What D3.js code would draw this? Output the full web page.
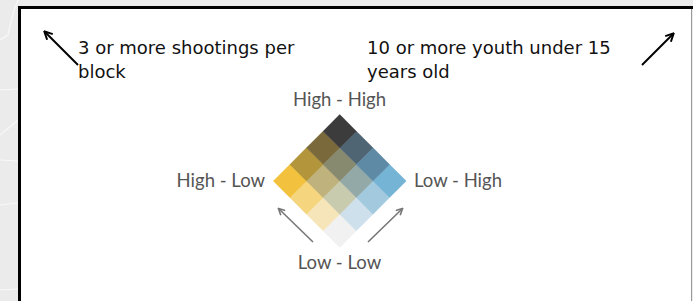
<!DOCTYPE html>
<html><head><meta charset="utf-8">
<script src="https://cdn.jsdelivr.net/npm/d3@7"></script>
<style>html,body{margin:0;padding:0;background:#fff;overflow:hidden}</style>
</head><body>
<svg id="c" width="693" height="301"></svg>
<script>
// Data
const shootingLevels = [0, 1, 2, 3];   // low -> high (3 or more shootings per block)
const youthLevels = [0, 1, 2, 3];      // low -> high (10 or more youth under 15)
// colors[shooting][youth]
const colors = [
  ["#f1f1f1", "#cde0ec", "#a3c9df", "#75b4d5"],
  ["#f6e5b8", "#c8cbae", "#93a9a7", "#5e8aa6"],
  ["#f5d57e", "#c0b27c", "#888a70", "#506573"],
  ["#f2c23e", "#b3963b", "#7a6a3b", "#3c3c3c"]
];
const cornerLabels = ["High - High", "High - Low", "Low - High", "Low - Low"];
const noteLeft = ["3 or more shootings per", "block"];
const noteRight = ["10 or more youth under 15", "years old"];

const svg = d3.select("#c");
// background map strip + panel
svg.append("rect").attr("x",0).attr("y",0).attr("width",693).attr("height",301).attr("fill","#ebebeb");
svg.append("path").attr("d","M0,40 L8,35 L14,10 L18,0").attr("stroke","#f6f6f6").attr("fill","none").attr("stroke-width",1.5);
svg.append("path").attr("d","M0,135 L18,120").attr("stroke","#f6f6f6").attr("fill","none").attr("stroke-width",1.5);
svg.append("path").attr("d","M0,90 L18,89 M0,160 L18,161 M0,205 L18,203 M0,290 L18,289").attr("stroke","#f8f8f8").attr("fill","none").attr("stroke-width",1);
svg.append("rect").attr("x",19).attr("y",7).attr("width",673).attr("height",300).attr("fill","#fff");
svg.append("line").attr("x1",19.5).attr("x2",19.5).attr("y1",6).attr("y2",301).attr("stroke","#000").attr("stroke-width",3);
svg.append("line").attr("x1",18).attr("x2",693).attr("y1",7.5).attr("y2",7.5).attr("stroke","#000").attr("stroke-width",3);
svg.append("line").attr("x1",691.5).attr("x2",691.5).attr("y1",9).attr("y2",301).attr("stroke","#999").attr("stroke-width",1);

// defs arrow markers
const defs = svg.append("defs");
function marker(id, color){
  defs.append("marker").attr("id",id).attr("viewBox","0 0 10 10").attr("refX",8).attr("refY",5)
    .attr("markerWidth",5).attr("markerHeight",5).attr("orient","auto-start-reverse")
    .append("path").attr("d","M1,1 L9,5 L1,9").attr("fill","none").attr("stroke",color).attr("stroke-width",2);
}
marker("ab","#000"); marker("ag","#777");

// Notes
const noteFont = "'DejaVu Sans', sans-serif";
const nl = svg.append("text").attr("font-family",noteFont).attr("font-size",18).attr("fill","#111");
noteLeft.forEach((t,i)=> nl.append("tspan").attr("x",78).attr("y",54+i*24).text(t));
const nr = svg.append("text").attr("font-family",noteFont).attr("font-size",18).attr("fill","#111");
noteRight.forEach((t,i)=> nr.append("tspan").attr("x",367).attr("y",54+i*24).text(t));

svg.append("line").attr("x1",78).attr("y1",65).attr("x2",45).attr("y2",32)
  .attr("stroke","#000").attr("stroke-width",2).attr("marker-end","url(#ab)");
svg.append("line").attr("x1",642).attr("y1",65).attr("x2",673).attr("y2",34)
  .attr("stroke","#000").attr("stroke-width",2).attr("marker-end","url(#ab)");

// Diamond
const cx = 339.5, cy = 181, side = 94;
const x = d3.scaleBand().domain(youthLevels).range([-side/2, side/2]);
const y = d3.scaleBand().domain(shootingLevels).range([side/2, -side/2]);
const g = svg.append("g").attr("transform",`translate(${cx},${cy}) rotate(-45)`);
const cells = [];
shootingLevels.forEach(a => youthLevels.forEach(b => cells.push({a, b, c: colors[a][b]})));
g.selectAll("rect").data(cells).join("rect")
  .attr("x", d => x(d.b)).attr("y", d => y(d.a))
  .attr("width", x.bandwidth()+0.3).attr("height", y.bandwidth()+0.3)
  .attr("fill", d => d.c);

const half = side/Math.SQRT2;
const lblFont = "Lato, sans-serif";
const lab = (t, px, py, anchor) => svg.append("text").attr("x",px).attr("y",py).attr("text-anchor",anchor)
  .attr("font-family",lblFont).attr("font-size",18.5).attr("fill","#555").text(t);
lab(cornerLabels[0], cx, cy-half-9, "middle");
lab(cornerLabels[1], cx-half-8, cy+6, "end");
lab(cornerLabels[2], cx+half+8, cy+6, "start");
lab(cornerLabels[3], cx, cy+half+22, "middle");

svg.append("line").attr("x1",313).attr("y1",242).attr("x2",279).attr("y2",209)
  .attr("stroke","#777").attr("stroke-width",1.6).attr("marker-end","url(#ag)");
svg.append("line").attr("x1",368).attr("y1",242).attr("x2",402).attr("y2",209)
  .attr("stroke","#777").attr("stroke-width",1.6).attr("marker-end","url(#ag)");
</script>
</body></html>
